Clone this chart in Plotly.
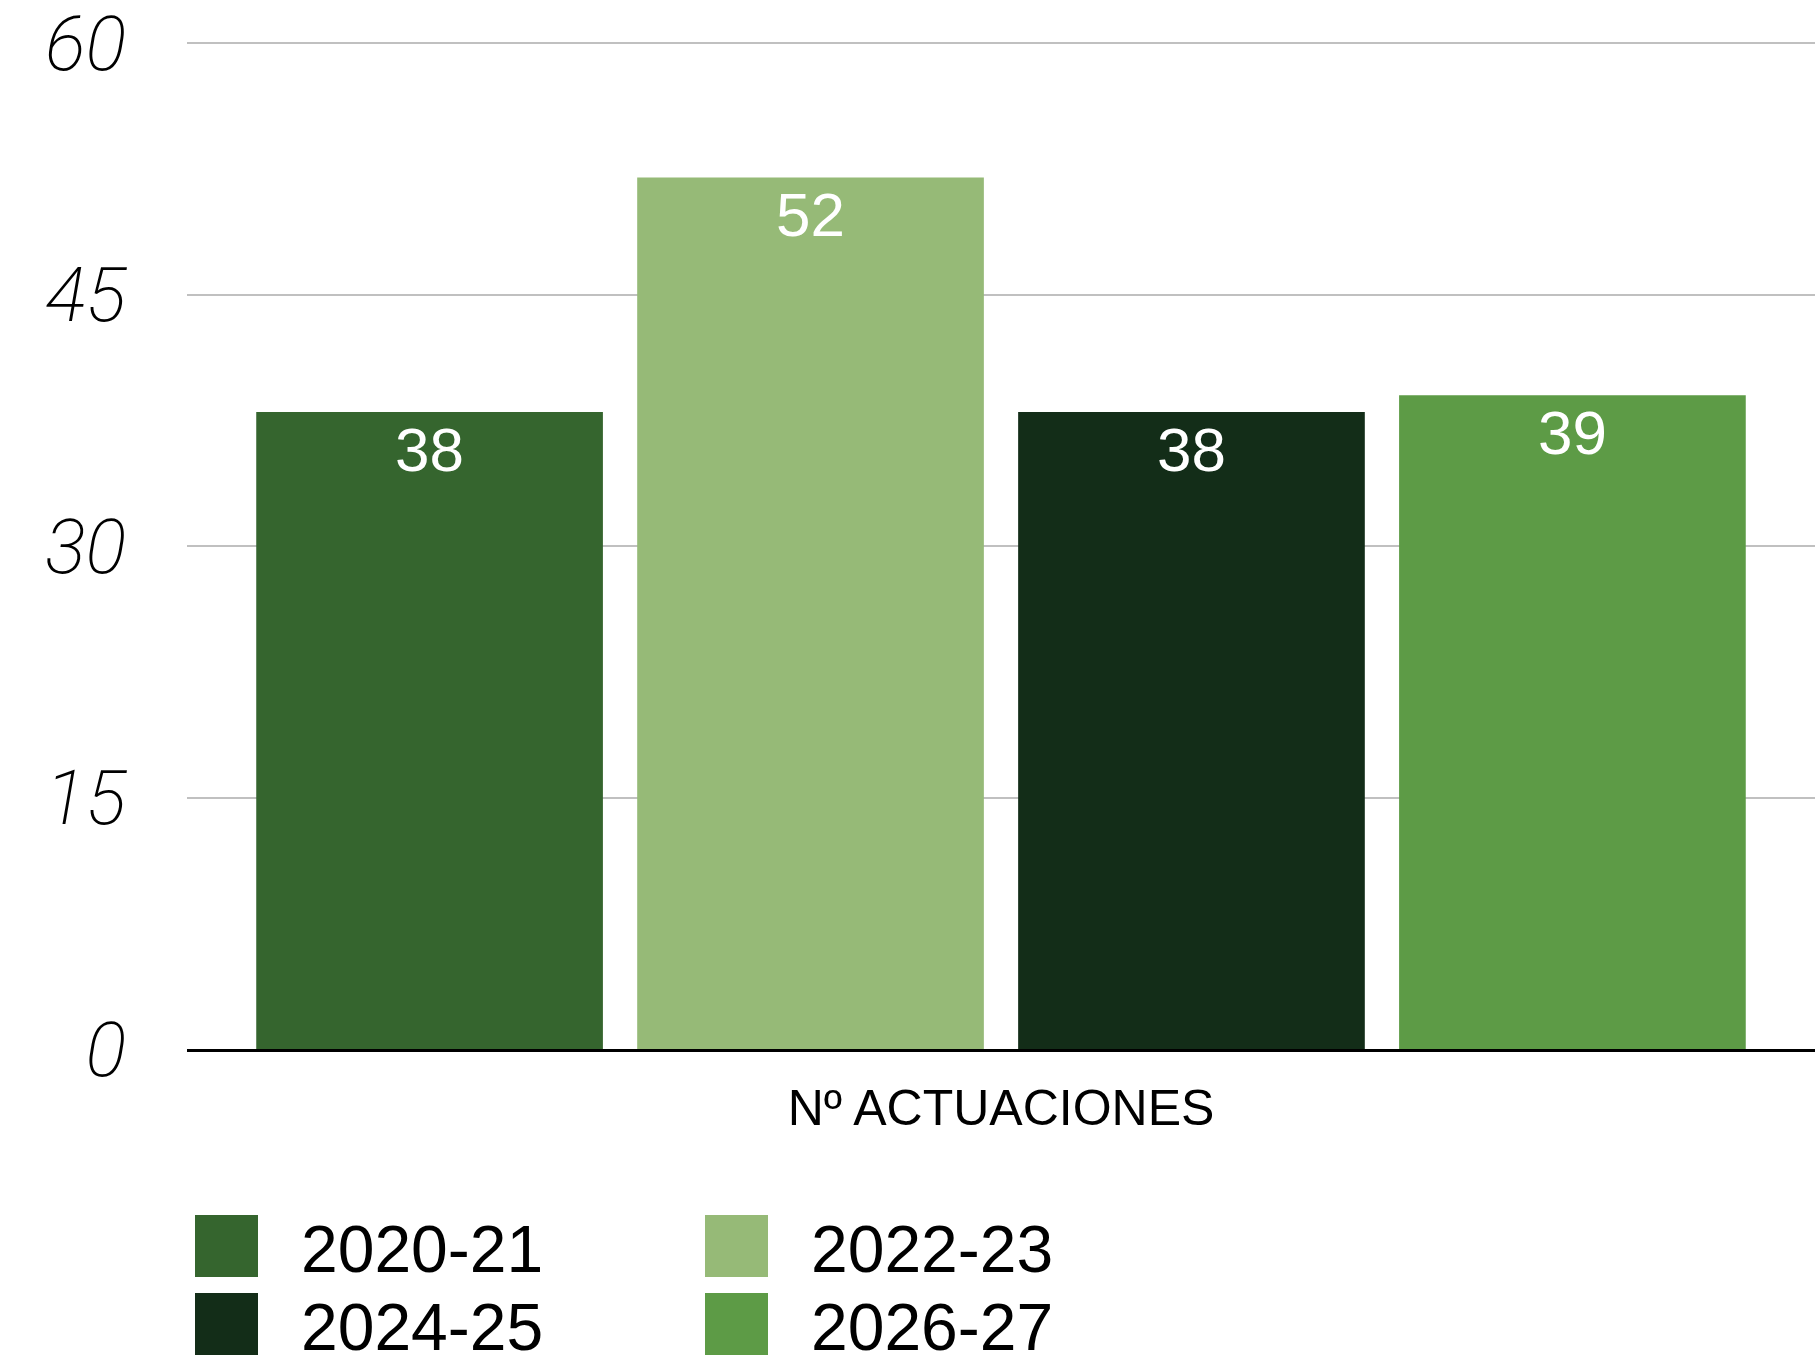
import plotly.graph_objects as go

# data
category = ["Nº ACTUACIONES"]
seasons = ["2020-21", "2022-23", "2024-25", "2026-27"]
values = [38, 52, 38, 39]
colors = ["#35652E", "#96BA77", "#132D18", "#5D9B46"]
y_ticks = [0, 15, 30, 45, 60]

W, H = 1815, 1364
M_L, M_R, M_T, M_B = 187, 0, 42, 315
TEXT_FONT = "Liberation Sans, Arial, Helvetica, sans-serif"


def px_to_paper(x, y):
    pw = W - M_L - M_R
    ph = H - M_T - M_B
    return (x - M_L) / pw, (H - M_B - y) / ph


fig = go.Figure()
for name, val, col in zip(seasons, values, colors):
    fig.add_trace(
        go.Bar(
            x=category,
            y=[val],
            name=name,
            marker=dict(color=col, line=dict(width=0)),
            texttemplate="%{y}",
            textposition="inside",
            insidetextanchor="end",
            textangle=0,
            textfont=dict(family=TEXT_FONT, size=62, color="white"),
            showlegend=False,
            hoverinfo="skip",
        )
    )

# legend drawn by hand so the swatches can be as large as in the reference
shapes = []
annotations = []
col_x = [195, 705]
row_y = [1215, 1293]
sw = 63
for i, (name, col) in enumerate(zip(seasons, colors)):
    r, c = divmod(i, 2)
    x0, y0 = px_to_paper(col_x[c], row_y[r])
    x1, y1 = px_to_paper(col_x[c] + sw, row_y[r] + sw - 1)
    shapes.append(dict(type="rect", xref="paper", yref="paper",
                       x0=x0, x1=x1, y0=y1, y1=y0,
                       fillcolor=col, line=dict(width=0)))
    tx, ty = px_to_paper(col_x[c] + 104, row_y[r] + sw / 2 + 2)
    annotations.append(dict(text=name, xref="paper", yref="paper",
                            x=tx, y=ty, xanchor="left", yanchor="middle",
                            showarrow=False,
                            font=dict(family=TEXT_FONT, size=66, color="black")))

fig.update_layout(
    width=W,
    height=H,
    margin=dict(l=M_L, r=M_R, t=M_T, b=M_B),
    paper_bgcolor="white",
    plot_bgcolor="white",
    barmode="group",
    bargap=0.064,
    bargroupgap=0.09,
    showlegend=False,
    shapes=shapes,
    annotations=annotations,
    xaxis=dict(
        type="category",
        showgrid=False,
        showline=True,
        linecolor="black",
        linewidth=3,
        ticks="",
        tickfont=dict(family=TEXT_FONT, size=50, color="black"),
        ticklabelstandoff=13,
    ),
    yaxis=dict(
        range=[0, 60.08],
        tickvals=y_ticks,
        showgrid=True,
        gridcolor="#C0C0C0",
        gridwidth=2,
        zeroline=False,
        showline=False,
        ticks="",
        ticklabelstandoff=60,
        ticklabeloverflow="allow",
        tickfont=dict(family="Roboto, sans-serif", size=76, color="black",
                      weight=200, style="italic"),
    ),
)

fig.write_html("out.html", config={"displayModeBar": False},
               post_script="document.body.style.margin='0px';")
